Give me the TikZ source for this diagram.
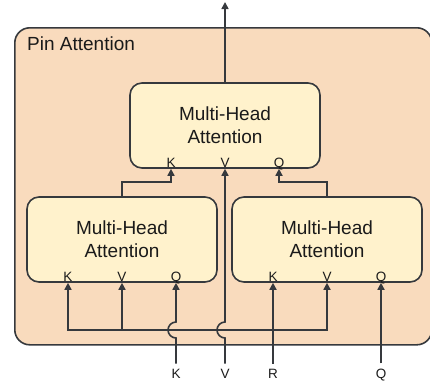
\documentclass[tikz,border=0pt]{standalone}
\usepackage{fontspec}
\setmainfont{Liberation Sans}
\usetikzlibrary{arrows.meta}
\definecolor{pinfill}{HTML}{F9DBBD}
\definecolor{mhafill}{HTML}{FFF2CC}
\definecolor{ink}{HTML}{36393D}
\definecolor{txt}{HTML}{1A1A1A}
\begin{document}
\begin{tikzpicture}[x=1pt,y=-1pt,
  container/.style={draw=ink, fill=pinfill, rounded corners=15pt, line width=1.6pt,
    minimum width=417pt, minimum height=317pt, inner sep=0pt},
  mha/.style={draw=ink, fill=mhafill, rounded corners=12pt, line width=1.6pt,
    minimum width=190pt, minimum height=85pt, inner sep=0pt, align=center,
    text=txt, font=\fontsize{19}{23}\selectfont},
  port/.style={inner sep=0pt, anchor=base, text=txt, font=\fontsize{13.5}{13.5}\selectfont},
  wire/.style={draw=ink, line width=1.6pt, line join=miter},
  tip/.tip={Triangle[length=7pt,width=7pt]},
  arr/.style={wire, -tip},
  % a small left-bulging hop where a vertical wire crosses the bus
  jumpover/.style={insert path={
    -- ([yshift=-8pt]#1)
    .. controls ([xshift=-4.4pt,yshift=-8pt]#1) and ([xshift=-8pt,yshift=-4.4pt]#1) .. ([xshift=-8pt]#1)
    .. controls ([xshift=-8pt,yshift=4.4pt]#1) and ([xshift=-4.4pt,yshift=8pt]#1) .. ([yshift=8pt]#1)}}]

\path[use as bounding box] (0,0) rectangle (430,388);

% outer block
\node[container, anchor=north west] (pin) at (14,27) {};
\node[anchor=west, inner sep=0pt, text=txt, font=\fontsize{19}{20}\selectfont] (title) at (27,44) {Pin Attention};

% attention blocks
\node[mha] (top) at (225,125.5) {Multi-Head\\Attention};
\node[mha] (L) at (122,239.5) {Multi-Head\\Attention};
\node[mha] (R) at (327,239.5) {Multi-Head\\Attention};

% port labels
\foreach \b in {top,L,R}{
  \node[port] (\b K) at ([xshift=-54pt,yshift=1.8pt]\b.south) {K};
  \node[port] (\b V) at ([yshift=1.8pt]\b.south) {V};
  \node[port] (\b Q) at ([xshift=54pt,yshift=1.8pt]\b.south) {Q};
}

% rows
\coordinate (busy) at (0,330);
\coordinate (inrow) at (0,378);

% inputs
\node[port] (iK) at (LQ |- inrow) {K};
\node[port] (iV) at (topV |- inrow) {V};
\node[port] (iR) at (RK |- inrow) {R};
\node[port] (iQ) at (RQ |- inrow) {Q};

\coordinate (jK) at (iK |- busy);
\coordinate (jV) at (iV |- busy);

% shared bus to K, V of the left block and V of the right block
\draw[wire, tip-tip] (L.south -| LK) -- (LK |- busy) -- (RV |- busy) -- (R.south -| RV);
\draw[arr] (LV |- busy) -- (L.south -| LV);

% input wires
\draw[arr] ([yshift=5pt]iK.north) [jumpover=jK] -- (L.south -| LQ);
\draw[arr] ([yshift=5pt]iV.north) [jumpover=jV] -- (top.south -| topV);
\draw[arr] ([yshift=5pt]iR.north) -- (R.south -| RK);
\draw[arr] ([yshift=5pt]iQ.north) -- (R.south -| RQ);

% block outputs into the upper block
\draw[arr] (L.north) -- ++(0,-14) -| (top.south -| topK);
\draw[arr] (R.north) -- ++(0,-14) -| (top.south -| topQ);

% final output
\coordinate (out) at (225,2);
\draw[arr] (top.north) -- (out);
\end{tikzpicture}
\end{document}
